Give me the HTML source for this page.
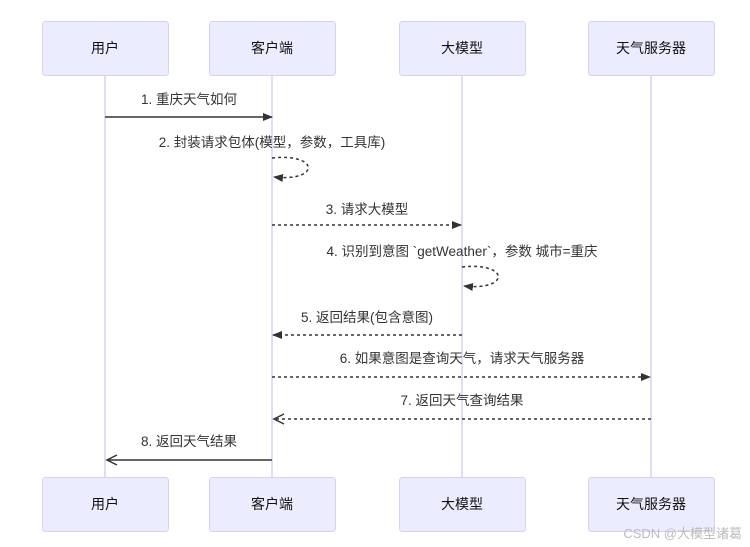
<!DOCTYPE html>
<html><head><meta charset="utf-8"><style>
html,body{margin:0;padding:0;background:#fff;}
svg{display:block;font-family:"Liberation Sans","Noto Sans CJK SC",sans-serif;}
</style></head><body>
<svg width="750" height="547" viewBox="0 0 750 547" xmlns="http://www.w3.org/2000/svg">
<defs>
<marker id="a" markerWidth="10" markerHeight="8" refX="9" refY="4" orient="auto" markerUnits="userSpaceOnUse"><path d="M0,0 L10,4 L0,8 z" fill="#333"/></marker>
</defs>
<g stroke="#d8d0f3" stroke-width="1.5">
<line x1="105" y1="75" x2="105" y2="477"/><line x1="272" y1="75" x2="272" y2="477"/>
<line x1="462" y1="75" x2="462" y2="477"/><line x1="651" y1="75" x2="651" y2="477"/>
</g>
<g fill="#ececff" stroke="#d8d0f3" stroke-width="1">
<rect x="42.5" y="21.5" width="126" height="54" rx="3"/><rect x="209.5" y="21.5" width="126" height="54" rx="3"/>
<rect x="399.5" y="21.5" width="126" height="54" rx="3"/><rect x="588.5" y="21.5" width="126" height="54" rx="3"/>
<rect x="42.5" y="477.5" width="126" height="54" rx="3"/><rect x="209.5" y="477.5" width="126" height="54" rx="3"/>
<rect x="399.5" y="477.5" width="126" height="54" rx="3"/><rect x="588.5" y="477.5" width="126" height="54" rx="3"/>
</g>
<g font-size="14" fill="#111" text-anchor="middle">
<text x="105" y="53">用户</text><text x="272" y="53">客户端</text><text x="462" y="53">大模型</text><text x="651" y="53">天气服务器</text>
<text x="105" y="509">用户</text><text x="272" y="509">客户端</text><text x="462" y="509">大模型</text><text x="651" y="509">天气服务器</text>
</g>
<g font-size="13.5" fill="#333" text-anchor="middle">
<text x="189" y="104">1. 重庆天气如何</text>
<text x="272" y="147">2. 封装请求包体(模型，参数，工具库)</text>
<text x="367" y="214">3. 请求大模型</text>
<text x="462" y="256">4. 识别到意图 `getWeather`，参数 城市=重庆</text>
<text x="367" y="322">5. 返回结果(包含意图)</text>
<text x="462" y="363">6. 如果意图是查询天气，请求天气服务器</text>
<text x="462" y="405">7. 返回天气查询结果</text>
<text x="189" y="446">8. 返回天气结果</text>
</g>
<g stroke="#333" stroke-width="1.5" fill="none">
<line x1="105" y1="117" x2="272" y2="117" marker-end="url(#a)"/>
<path d="M272,158 C320,153 320,182 274,177" stroke-dasharray="3,3" marker-end="url(#a)"/>
<line x1="272" y1="225" x2="461" y2="225" stroke-dasharray="3,3" marker-end="url(#a)"/>
<path d="M462,267 C510,262 510,291 464,286" stroke-dasharray="3,3" marker-end="url(#a)"/>
<line x1="462" y1="335" x2="273" y2="335" stroke-dasharray="3,3" marker-end="url(#a)"/>
<line x1="272" y1="377" x2="650" y2="377" stroke-dasharray="3,3" marker-end="url(#a)"/>
<line x1="651" y1="419" x2="274" y2="419" stroke-dasharray="3,3"/>
<line x1="272" y1="460" x2="107" y2="460"/>
<path d="M117,455 L107,460 L117,465" />
<path d="M284,414 L274,419 L284,424"/>
</g>
<text x="742" y="538" font-size="13" fill="#bbb" text-anchor="end">CSDN @大模型诸葛</text>
</svg>
</body></html>
